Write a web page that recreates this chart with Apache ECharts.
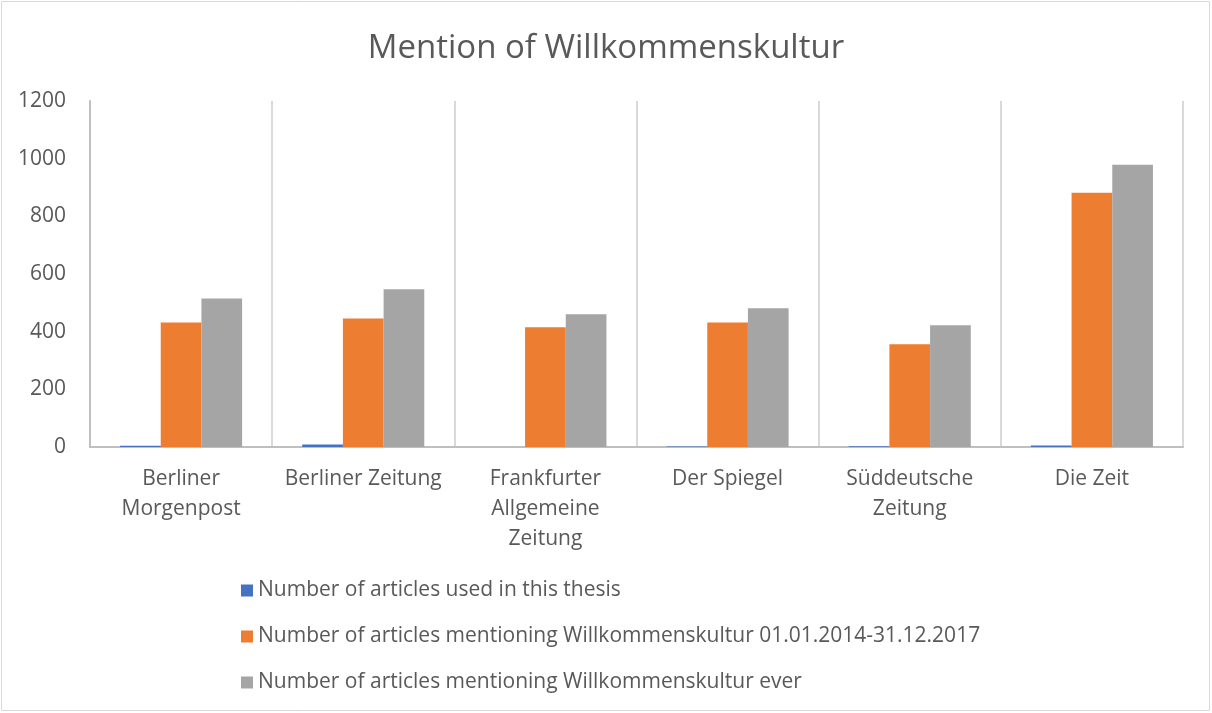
<!DOCTYPE html>
<html>
<head>
<meta charset="UTF-8">
<title>Mention of Willkommenskultur</title>
<script src="https://cdn.jsdelivr.net/npm/echarts@6/dist/echarts.min.js"></script>
<style>
  html, body { margin: 0; padding: 0; background: #fff; }
  #main { width: 1212px; height: 713px; }
</style>
</head>
<body>
<div id="main"></div>
<script>
var categories = ['Berliner\nMorgenpost', 'Berliner Zeitung', 'Frankfurter\nAllgemeine\nZeitung', 'Der Spiegel', 'Süddeutsche\nZeitung', 'Die Zeit'];
var usedInThesis = [4, 9, 0, 2, 3, 5];
var mentioned2014to2017 = [432, 446, 415, 432, 356, 882];
var mentionedEver = [515, 547, 460, 481, 422, 979];
var seriesNames = [
  'Number of articles used in this thesis',
  'Number of articles mentioning Willkommenskultur 01.01.2014-31.12.2017',
  'Number of articles mentioning Willkommenskultur ever'
];
var colors = ['#4472c4', '#ed7d31', '#a5a5a5'];

var font = 'Open Sans';
var chart = echarts.init(document.getElementById('main'));
chart.setOption({
  animation: false,
  color: colors,
  textStyle: { fontFamily: font },
  title: {
    text: 'Mention of Willkommenskultur',
    left: 'center',
    top: 27,
    textStyle: { fontSize: 33, fontWeight: 'normal', color: '#595959', fontFamily: font }
  },
  graphic: [{
    type: 'rect',
    shape: { x: 1.5, y: 1.5, width: 1208, height: 709 },
    style: { fill: 'none', stroke: '#d9d9d9', lineWidth: 1 },
    silent: true
  }],
  grid: { left: 90, right: 29, top: 101, bottom: 266, containLabel: false },
  legend: {
    orient: 'vertical',
    left: 236,
    top: 575,
    itemWidth: 12,
    itemHeight: 12,
    itemGap: 25,
    icon: 'rect',
    textStyle: { fontSize: 21, color: '#595959', fontFamily: font },
    data: seriesNames
  },
  xAxis: {
    type: 'category',
    data: categories,
    axisLine: { lineStyle: { color: '#bfbfbf', width: 2 } },
    axisTick: { show: false },
    splitLine: { show: true, lineStyle: { color: '#d9d9d9', width: 2 } },
    axisLabel: { fontSize: 21, color: '#595959', lineHeight: 30, margin: 17, interval: 0 }
  },
  yAxis: {
    type: 'value',
    min: 0,
    max: 1200,
    interval: 200,
    axisLine: { show: true, lineStyle: { color: '#bfbfbf', width: 2 } },
    axisTick: { show: false },
    splitLine: { show: false },
    axisLabel: { fontSize: 21, color: '#595959', margin: 24, formatter: function (v) { return String(v); } }
  },
  series: [
    { name: seriesNames[0], type: 'bar', data: usedInThesis, barGap: '0%', barCategoryGap: '33%' },
    { name: seriesNames[1], type: 'bar', data: mentioned2014to2017, barGap: '0%', barCategoryGap: '33%' },
    { name: seriesNames[2], type: 'bar', data: mentionedEver, barGap: '0%', barCategoryGap: '33%' }
  ]
});
</script>
</body>
</html>
